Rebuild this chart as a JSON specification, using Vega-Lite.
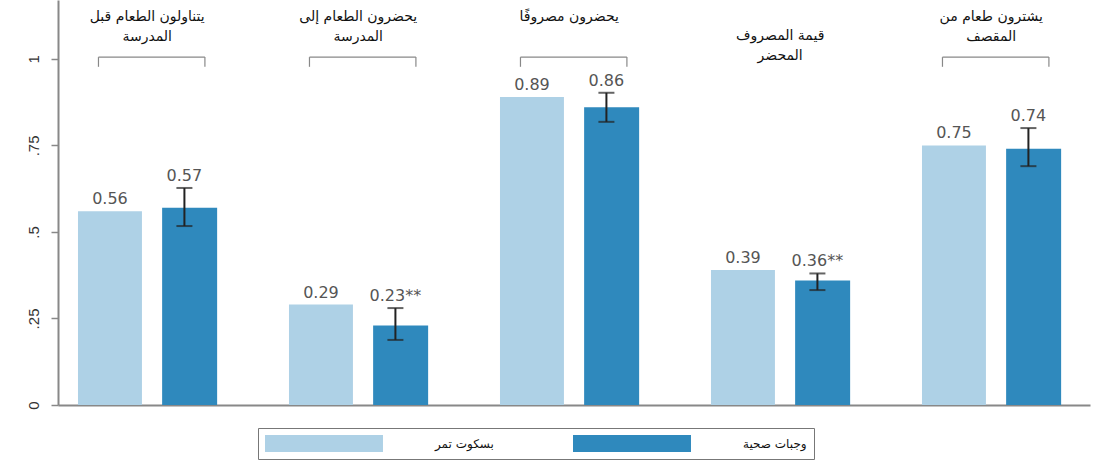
{
  "$schema": "https://vega.github.io/schema/vega-lite/v6.json",
  "width": 1032,
  "height": 405,
  "autosize": "none",
  "padding": {"left": 58, "top": 0, "right": 15, "bottom": 57},
  "background": "white",
  "config": {"view": {"stroke": null}, "font": "Liberation Sans"},
  "datasets": {
    "bars": [
      {"group": "g1", "series": "بسكوت تمر", "value": 0.56, "label": "0.56"},
      {"group": "g1", "series": "وجبات صحية", "value": 0.57, "lo": 0.517, "hi": 0.627, "label": "0.57"},
      {"group": "g2", "series": "بسكوت تمر", "value": 0.29, "label": "0.29"},
      {"group": "g2", "series": "وجبات صحية", "value": 0.23, "lo": 0.188, "hi": 0.28, "label": "0.23**"},
      {"group": "g3", "series": "بسكوت تمر", "value": 0.89, "label": "0.89"},
      {"group": "g3", "series": "وجبات صحية", "value": 0.86, "lo": 0.818, "hi": 0.902, "label": "0.86"},
      {"group": "g4", "series": "بسكوت تمر", "value": 0.39, "label": "0.39"},
      {"group": "g4", "series": "وجبات صحية", "value": 0.36, "lo": 0.332, "hi": 0.38, "label": "0.36**"},
      {"group": "g5", "series": "بسكوت تمر", "value": 0.75, "label": "0.75"},
      {"group": "g5", "series": "وجبات صحية", "value": 0.74, "lo": 0.69, "hi": 0.80, "label": "0.74"}
    ],
    "titles": [
      {"group": "g1", "title": "يتناولون الطعام قبل\nالمدرسة"},
      {"group": "g2", "title": "يحضرون الطعام إلى\nالمدرسة"},
      {"group": "g3", "title": "يحضرون مصروفًا"},
      {"group": "g4", "title": "قيمة المصروف\nالمحضر"},
      {"group": "g5", "title": "يشترون طعام من\nالمقصف"}
    ]
  },
  "data": {"name": "bars"},
  "encoding": {
    "x": {
      "field": "group", "type": "nominal",
      "scale": {"domain": ["g1", "g2", "g3", "g4", "g5"], "paddingInner": 0.344, "paddingOuter": 0.1175, "align": 0.403},
      "axis": {"labels": false, "ticks": false, "title": null, "domainColor": "#888", "domainWidth": 2, "grid": false}
    },
    "y": {
      "type": "quantitative",
      "scale": {"domain": [0, 1.17], "nice": false, "zero": true},
      "axis": {
        "values": [0, 0.25, 0.5, 0.75, 1], "title": null, "grid": false,
        "labelExpr": "datum.value == 0 ? '0' : datum.value == 1 ? '1' : replace(format(datum.value, '.2~f'), '0.', '.')",
        "domainColor": "#888", "domainWidth": 2, "tickColor": "#888", "tickSize": 7, "tickWidth": 1.5,
        "labelAngle": -90, "labelAlign": "center", "labelBaseline": "bottom", "labelFontSize": 15, "labelColor": "#333", "labelPadding": 10
      }
    }
  },
  "layer": [
    {
      "transform": [{"filter": "datum.series == 'بسكوت تمر'"}],
      "mark": {"type": "bar"},
      "encoding": {
        "xOffset": {"field": "series", "type": "nominal", "scale": {"domain": ["بسكوت تمر", "وجبات صحية"], "paddingInner": 0.141, "paddingOuter": 0}},
        "y": {"field": "value", "type": "quantitative"},
        "color": {
          "field": "series", "type": "nominal",
          "scale": {"domain": ["بسكوت تمر", "وجبات صحية"], "range": ["#aed1e6", "#2f89bd"]},
          "legend": {
            "orient": "none", "legendX": 200, "legendY": 428, "direction": "horizontal", "title": null,
            "symbolType": "M-1,-1H12.88V1H-1Z", "symbolSize": 289, "symbolStrokeWidth": 0,
            "labelFont": "DejaVu Sans", "labelFontSize": 12, "labelColor": "#111",
            "labelOffset": 153, "columnPadding": 79, "padding": 7,
            "strokeColor": "#777", "fillColor": "white"
          }
        }
      }
    },
    {
      "transform": [{"filter": "datum.series == 'وجبات صحية'"}],
      "mark": {"type": "bar", "width": {"band": 0.86}},
      "encoding": {
        "xOffset": {"field": "series", "type": "nominal", "scale": {"domain": ["بسكوت تمر", "وجبات صحية"], "paddingInner": 0.141, "paddingOuter": 0}},
        "y": {"field": "value", "type": "quantitative"},
        "color": {"field": "series", "type": "nominal"}
      }
    },
    {
      "transform": [{"filter": "datum.hi != null"}],
      "mark": {"type": "rule", "color": "#222", "strokeWidth": 2},
      "encoding": {
        "xOffset": {"field": "series", "type": "nominal"},
        "y": {"field": "lo", "type": "quantitative"},
        "y2": {"field": "hi"}
      }
    },
    {
      "transform": [{"filter": "datum.hi != null"}],
      "mark": {"type": "tick", "color": "#222", "thickness": 2, "size": 16, "orient": "horizontal"},
      "encoding": {
        "xOffset": {"field": "series", "type": "nominal"},
        "y": {"field": "hi", "type": "quantitative"}
      }
    },
    {
      "transform": [{"filter": "datum.hi != null"}],
      "mark": {"type": "tick", "color": "#222", "thickness": 2, "size": 16, "orient": "horizontal"},
      "encoding": {
        "xOffset": {"field": "series", "type": "nominal"},
        "y": {"field": "lo", "type": "quantitative"}
      }
    },
    {
      "transform": [{"calculate": "datum.hi != null ? datum.hi : datum.value", "as": "top"}],
      "mark": {"type": "text", "baseline": "bottom", "dy": -4, "font": "DejaVu Sans", "fontSize": 16, "color": "#555"},
      "encoding": {
        "xOffset": {"field": "series", "type": "nominal"},
        "y": {"field": "top", "type": "quantitative"},
        "text": {"field": "label"}
      }
    },
    {
      "transform": [{"filter": "datum.hi != null && datum.group != 'g4'"}],
      "mark": {"type": "rule", "color": "#888", "strokeWidth": 1.2},
      "encoding": {
        "x": {"field": "group", "type": "nominal", "bandPosition": 0.148},
        "x2": {"field": "group", "bandPosition": 0.917},
        "y": {"datum": 1.005}
      }
    },
    {
      "transform": [{"filter": "datum.hi != null && datum.group != 'g4'"}],
      "mark": {"type": "rule", "color": "#888", "strokeWidth": 1.2},
      "encoding": {
        "x": {"field": "group", "type": "nominal", "bandPosition": 0.148},
        "y": {"datum": 0.977},
        "y2": {"datum": 1.005}
      }
    },
    {
      "transform": [{"filter": "datum.hi != null && datum.group != 'g4'"}],
      "mark": {"type": "rule", "color": "#888", "strokeWidth": 1.2},
      "encoding": {
        "x": {"field": "group", "type": "nominal", "bandPosition": 0.917},
        "y": {"datum": 0.977},
        "y2": {"datum": 1.005}
      }
    },
    {
      "data": {"name": "titles"},
      "transform": [{"filter": "datum.group != 'g4'"}],
      "mark": {"type": "text", "baseline": "top", "align": "center", "lineBreak": "\n", "lineHeight": 20, "font": "DejaVu Sans", "fontSize": 14, "color": "#111"},
      "encoding": {
        "x": {"field": "group", "type": "nominal", "bandPosition": 0.5},
        "y": {"datum": 1.141},
        "text": {"field": "title"}
      }
    },
    {
      "data": {"name": "titles"},
      "transform": [{"filter": "datum.group == 'g4'"}],
      "mark": {"type": "text", "baseline": "top", "align": "center", "lineBreak": "\n", "lineHeight": 20, "font": "DejaVu Sans", "fontSize": 14, "color": "#111"},
      "encoding": {
        "x": {"field": "group", "type": "nominal", "bandPosition": 0.5},
        "y": {"datum": 1.087},
        "text": {"field": "title"}
      }
    }
  ]
}
